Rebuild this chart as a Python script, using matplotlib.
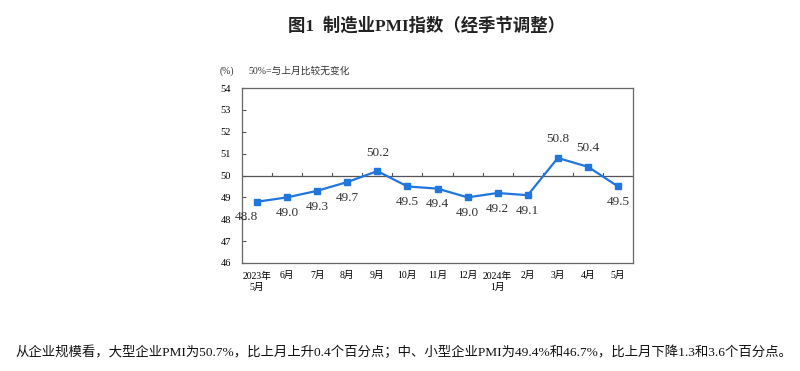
import matplotlib
matplotlib.use("Agg")
import matplotlib.pyplot as plt

plt.rcParams['font.family'] = ['Liberation Serif', 'Noto Sans CJK SC', 'DejaVu Sans']

months = ['2023年\n5月', '6月', '7月', '8月', '9月', '10月', '11月', '12月',
          '2024年\n1月', '2月', '3月', '4月', '5月']
pmi = [48.8, 49.0, 49.3, 49.7, 50.2, 49.5, 49.4, 49.0, 49.2, 49.1, 50.8, 50.4, 49.5]
yticks = [46, 47, 48, 49, 50, 51, 52, 53, 54]

fig = plt.figure(figsize=(8, 3.71), dpi=100)
ax = fig.add_axes([242/800, 1-263/371, (633-242)/800, (263-88)/371])

x = list(range(len(pmi)))
ax.plot(x, pmi, color='#2176dc', lw=1.6, marker='s', ms=4, zorder=3)
ax.axhline(50, color='#555555', lw=0.9, zorder=2)

# tick marks on the 50 line between months
for b in range(1, len(pmi)):
    ax.plot([b - 0.5, b - 0.5], [50, 50.12], color='#555555', lw=0.8, zorder=2)

for i, v in enumerate(pmi):
    if v > 50:
        ax.annotate(f'{v:.1f}', (i, v), xytext=(0, 9), textcoords='offset points',
                    ha='center', va='bottom', fontsize=9.5, color='#333333')
    else:
        dx = -8 if i == 0 else 0
        ax.annotate(f'{v:.1f}', (i, v), xytext=(dx, -7), textcoords='offset points',
                    ha='center', va='top', fontsize=9.5, color='#333333')

ax.set_xlim(-0.5, len(pmi) - 0.5)
ax.set_ylim(46, 54)
ax.set_yticks(yticks)
ax.set_yticklabels([str(t) for t in yticks], fontsize=7.5)
ax.set_xticks(x)
ax.set_xticklabels(months, fontsize=7, linespacing=1.3)
ax.tick_params(axis='x', length=0, pad=6)
ax.tick_params(axis='y', direction='in', length=3, width=0.8, color='#555555', pad=8)
for s in ax.spines.values():
    s.set_color('#666666')
    s.set_linewidth(0.9)

fig.text(426/800, 1 - 26/371, '图1  制造业PMI指数（经季节调整）', ha='center', va='center',
         fontsize=12.5, fontweight='bold', color='#222222')
fig.text(220/800, 1 - 71/371, '(%)', ha='left', va='center', fontsize=7, color='#333333')
fig.text(248/800, 1 - 71/371, '50%=与上月比较无变化', ha='left', va='center', fontsize=7, color='#333333')
fig.text(15/800, 1 - 352/371,
         '从企业规模看，大型企业PMI为50.7%，比上月上升0.4个百分点；中、小型企业PMI为49.4%和46.7%，比上月下降1.3和3.6个百分点。',
         ha='left', va='center', fontsize=9.65, color='#111111')

fig.savefig('out.png', dpi=100)
